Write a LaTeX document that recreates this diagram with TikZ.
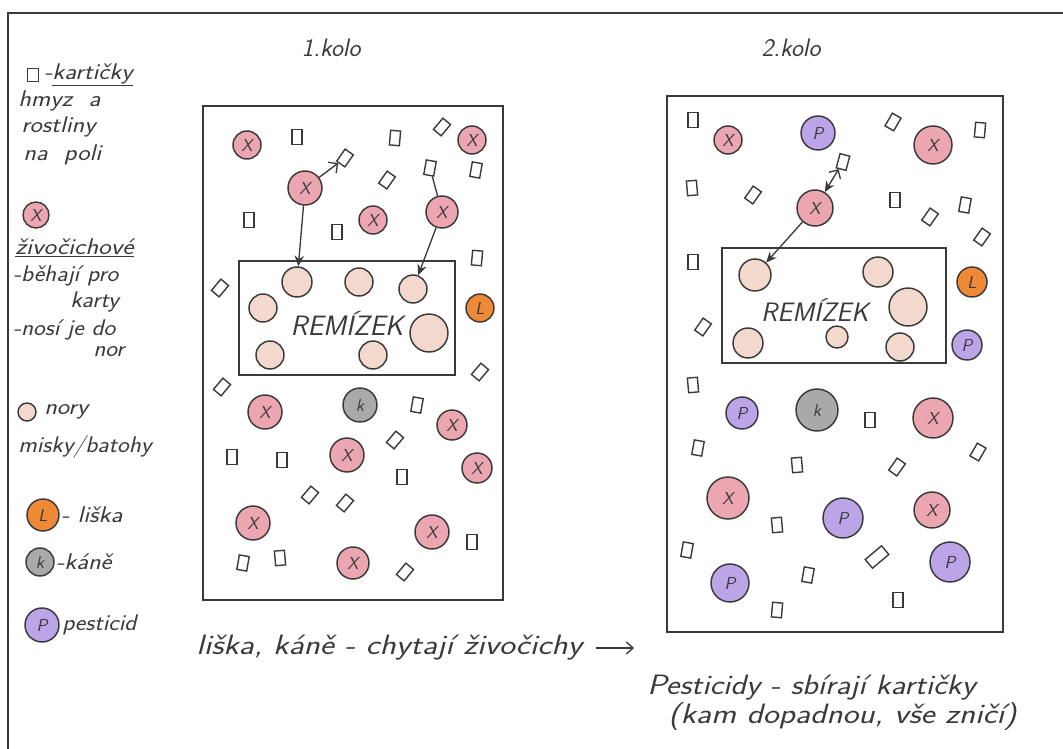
\documentclass[tikz,border=0pt]{standalone}
\usepackage{fontspec}
\usetikzlibrary{arrows.meta}
\definecolor{inkc}{HTML}{3A3A3A}
\definecolor{xpink}{HTML}{EBA6B1}
\definecolor{holec}{HTML}{F3D8CE}
\definecolor{foxc}{HTML}{EE8A35}
\definecolor{buzc}{HTML}{A9A9A9}
\definecolor{pestc}{HTML}{BBA5E8}
% handwriting is wider than the type: stretch horizontally
\newcommand{\hwide}[2]{\scalebox{#1}[1]{#2}}
\tikzset{
  pen/.style={draw=inkc, line width=1.1pt},
  hand/.style={text=inkc, font=\sffamily\itshape\fontsize{17}{19}\selectfont, inner sep=0pt},
  big/.style={font=\sffamily\itshape\fontsize{21}{23}\selectfont},
  token/.style={circle, pen, inner sep=0pt, minimum size=#1*1.5pt, text=inkc,
    font=\sffamily\itshape\fontsize{13}{13}\selectfont},
  animal/.style={token=#1, fill=xpink},
  hole/.style={token=#1, fill=holec},
  fox/.style={token=#1, fill=foxc},
  buzzard/.style={token=#1, fill=buzc},
  pest/.style={token=#1, fill=pestc},
  card/.style={rectangle, draw=inkc, line width=1.05pt, fill=white, inner sep=0pt,
    minimum width=7.5pt, minimum height=11pt},
  link/.style={pen, line width=1pt},
  move/.style={link, -{Stealth[length=8pt,width=7pt]}},
  field/.style={draw=inkc, line width=1.1pt, inner sep=0pt},
}
\begin{document}
\begin{tikzpicture}[x=0.75pt, y=-0.75pt]
\useasboundingbox (0,0) rectangle (1063,749);
% page frame
\coordinate (fb) at (8,749);
\coordinate (fc) at (8,13);
\coordinate (fr) at (1063,13);
\draw[draw=inkc, line width=1.4pt] (fb) -- (fc) -- (fr);

% ---------- legend ----------
\node[card, minimum width=8.5pt, minimum height=10pt] (lcard) at (33,75) {};
\node[hand, anchor=west] (lt1) at (44,75) {\hwide{1.15}{-\underline{kartičky}}};
\node[hand, anchor=west] (lt2) at (18,101) {\hwide{1.15}{hmyz\ \ a}};
\node[hand, anchor=west] (lt3) at (21,127) {\hwide{1.15}{rostliny}};
\node[hand, anchor=west] (lt4) at (23,155) {\hwide{1.15}{na\ \ poli}};
\node[animal=13] (lx) at (36,215) {X};
\node[hand, anchor=west] (lt5) at (15,248) {\hwide{1.18}{\underline{živočichové}}};
\node[hand, anchor=west] (lt6) at (13,276) {\hwide{1.1}{-běhají pro}};
\node[hand, anchor=west] (lt7) at (70,302) {\hwide{1.1}{karty}};
\node[hand, anchor=west] (lt8) at (13,330) {\hwide{1.1}{-nosí je do}};
\node[hand, anchor=west] (lt9) at (93,352) {\hwide{1.1}{nor}};
\node[hole=9] (lh) at (27,412) {};
\node[hand, anchor=west] (lt10) at (44,412) {\hwide{1.15}{nory}};
\node[hand, anchor=west] (lt11) at (18,447) {\hwide{1.1}{misky/batohy}};
\node[fox=16] (lf) at (43,515) {L};
\node[hand, anchor=west] (lt12) at (61,515) {\hwide{1.15}{- liška}};
\node[buzzard=14] (lk) at (40,562) {k};
\node[hand, anchor=west] (lt13) at (56,562) {\hwide{1.15}{-káně}};
\node[pest=17] (lp) at (42,625) {P};
\node[hand, anchor=west] (lt14) at (62,625) {\hwide{1.1}{pesticid}};

% ---------- round 1 ----------
\node[hand, font=\sffamily\itshape\fontsize{19}{21}\selectfont] (t1) at (331,48) {1.kolo};
\node[field, minimum width=300*0.75pt, minimum height=494*0.75pt] (field1) at (353,353) {};
\node[field, minimum width=216*0.75pt, minimum height=114*0.75pt] (rem1) at (347,318) {};
\node[hand, font=\sffamily\itshape\fontsize{21}{23}\selectfont] (rt1) at (347,323) {REMÍZEK};

\foreach \x/\y [count=\i] in {359/282, 263/308, 270/355, 373/355}
  \node[hole=14] (ha\i) at (\x,\y) {};
\node[hole=14] (h3) at (413,289) {};
\node[hole=19] (h5) at (429,333) {};
\node[hole=15] (h1) at (297,282) {};

\foreach \x/\y/\a [count=\i] in {297/137/0, 395/138/-5, 442/127/-40, 476/170/-10,
    387/180/-35, 249/220/0, 337/232/0, 477/258/-5, 220/288/-40, 480/372/-40,
    222/387/-40, 417/405/-10, 395/440/-40, 232/457/0, 282/460/0, 402/477/0,
    310/495/-40, 345/503/-40, 472/542/0, 243/563/-10, 280/558/5, 405/572/-40}
  \node[card, rotate=\a] (ca\i) at (\x,\y) {};
\node[card, rotate=-35] (k1) at (345,158) {};
\node[card, rotate=-10] (k2) at (430,168) {};

\foreach \x/\y/\r [count=\i] in {247/145/14, 472/140/14, 373/220/14, 265/412/17,
    452/425/15, 347/455/17, 477/468/15, 253/523/17, 432/532/17, 353/563/16}
  \node[animal=\r] (xa\i) at (\x,\y) {X};
\node[animal=17] (a1) at (305,188) {X};
\node[animal=16] (a2) at (442,212) {X};
\node[fox=14] (f1) at (480,308) {L};
\node[buzzard=17] (b1) at (360,405) {k};

\draw[move] (a1) -- (h1);
\draw[move] (a2) -- (h3);
\draw[link, -{Straight Barb[length=5pt,width=10pt]}] (a1) -- (k1);
\draw[link] (k2) -- (a2);

% ---------- round 2 ----------
\node[hand, font=\sffamily\itshape\fontsize{19}{21}\selectfont] (t2) at (791,48) {2.kolo};
\node[field, minimum width=336*0.75pt, minimum height=536*0.75pt] (field2) at (835,364) {};
\node[field, minimum width=224*0.75pt, minimum height=115*0.75pt] (rem2) at (834,305.5) {};
\node[hand, font=\sffamily\itshape\fontsize{20}{22}\selectfont] (rt2) at (815,310) {REMÍZEK};

\foreach \x/\y/\r [count=\i] in {878/272/15, 908/307/19, 748/343/15, 837/337/11, 900/347/14}
  \node[hole=\r] (hb\i) at (\x,\y) {};
\node[hole=16] (g1) at (755,275) {};

\foreach \x/\y/\a [count=\i] in {693/120/0, 893/122/-30, 980/130/-5, 692/188/5,
    753/195/-35, 895/200/0, 930/217/-35, 965/205/-10, 982/237/-35, 693/262/0,
    703/327/-35, 693/385/5, 870/420/0, 698/448/-10, 797/465/5, 897/467/-35,
    978/452/-30, 777/525/5, 687/550/-10, 808/575/-10, 777/610/-5, 898/600/0}
  \node[card, rotate=\a] (cb\i) at (\x,\y) {};
\node[card, rotate=-50, minimum width=8.5pt, minimum height=16pt] (cbig) at (877,557) {};
\node[card, rotate=-15] (q1) at (843,162) {};

\foreach \x/\y/\r [count=\i] in {728/140/14, 933/145/19, 933/418/20, 728/498/21, 932/510/18}
  \node[animal=\r] (xb\i) at (\x,\y) {X};
\node[animal=18] (s1) at (815,208) {X};
\foreach \x/\y/\r [count=\i] in {818/133/17, 967/345/15, 742/413/16, 843/518/20,
    950/562/20, 730/583/19}
  \node[pest=\r] (pb\i) at (\x,\y) {P};
\node[fox=15] (f2) at (972,282) {L};
\node[buzzard=21] (b2) at (817,410) {k};

\draw[link, {Straight Barb[length=5pt,width=10pt]}-{Stealth[length=8pt,width=7pt]}] (q1) -- (s1);
\draw[move] (s1) -- (g1);

% ---------- captions ----------
\node[hand, big, anchor=west] (cap1) at (196,648)
  {\hwide{1.2}{liška, káně - chytají živočichy}};
\coordinate (cap1end) at (634,648);
\draw[link, -{Straight Barb[length=5pt,width=9pt]}, shorten <=10pt] (cap1) -- (cap1end);
\node[hand, big, anchor=west] (cap2) at (647,688)
  {\hwide{1.16}{Pesticidy - sbírají kartičky}};
\node[hand, big, anchor=west] (cap3) at (668,717)
  {\hwide{1.2}{(kam dopadnou, vše zničí)}};
\end{tikzpicture}
\end{document}
